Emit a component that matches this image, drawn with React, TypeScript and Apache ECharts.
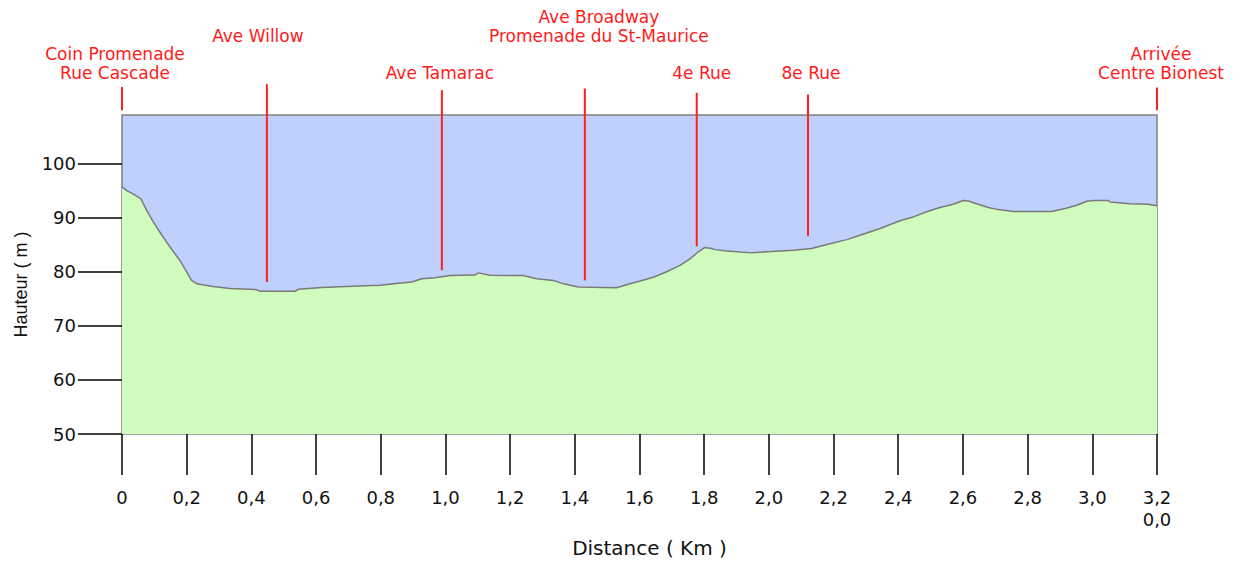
import React, { useEffect, useRef } from "react";
import * as echarts from "echarts";

// Elevation profile (distance in km, elevation in m)
const distKm = [0, 0.015, 0.035, 0.058, 0.076, 0.097, 0.123, 0.148, 0.179, 0.2, 0.215, 0.231, 0.282, 0.334, 0.416, 0.427, 0.535, 0.545, 0.617, 0.751, 0.798, 0.839, 0.896, 0.927, 0.968, 1.014, 1.091, 1.102, 1.138, 1.241, 1.282, 1.334, 1.359, 1.411, 1.529, 1.565, 1.602, 1.643, 1.684, 1.725, 1.756, 1.782, 1.802, 1.823, 1.833, 1.87, 1.947, 1.993, 2.076, 2.132, 2.189, 2.241, 2.282, 2.344, 2.405, 2.447, 2.488, 2.529, 2.57, 2.601, 2.617, 2.642, 2.678, 2.709, 2.756, 2.874, 2.916, 2.952, 2.983, 3.003, 3.049, 3.055, 3.117, 3.173, 3.2];
const elevM = [95.7, 95.0, 94.35, 93.55, 91.4, 89.2, 86.8, 84.6, 82.1, 80.0, 78.4, 77.8, 77.3, 76.9, 76.7, 76.4, 76.4, 76.75, 77.1, 77.4, 77.5, 77.8, 78.1, 78.7, 78.9, 79.3, 79.4, 79.8, 79.35, 79.3, 78.7, 78.4, 77.9, 77.2, 77.05, 77.7, 78.3, 79.0, 80.0, 81.2, 82.4, 83.7, 84.5, 84.3, 84.1, 83.85, 83.5, 83.7, 84.0, 84.3, 85.2, 85.95, 86.75, 88.0, 89.45, 90.15, 91.1, 91.9, 92.5, 93.2, 93.1, 92.6, 91.9, 91.5, 91.15, 91.15, 91.7, 92.3, 93.05, 93.2, 93.2, 92.9, 92.6, 92.5, 92.2];

// Street markers
const markerNames = [
  "Coin Promenade\nRue Cascade",
  "Ave Willow",
  "Ave Tamarac",
  "Ave Broadway\nPromenade du St-Maurice",
  "4e Rue",
  "8e Rue",
  "Arrivée\nCentre Bionest",
];
const markerDist = [0, 0.448, 0.989, 1.431, 1.777, 2.121, 3.2];
const markerLineFrom = [109.9, 78.1, 80.3, 78.4, 84.7, 86.6, 109.9];
const markerLineTo = [114.2, 114.7, 113.6, 113.9, 113.1, 112.8, 114.1];

// Layout of marker labels (row 0 = low, row 1 = high) and horizontal nudges in px
const markerLabelRow = [0, 1, 0, 1, 0, 0, 0];
const markerLabelDx = [-7, -9, -2, 14, 5, 3, 4];

// Axis ticks
const yTicks = [50, 60, 70, 80, 90, 100];
const xTicks = [0, 0.2, 0.4, 0.6, 0.8, 1.0, 1.2, 1.4, 1.6, 1.8, 2.0, 2.2, 2.4, 2.6, 2.8, 3.0, 3.2];
const xTickLabels = ["0", "0,2", "0,4", "0,6", "0,8", "1,0", "1,2", "1,4", "1,6", "1,8", "2,0", "2,2", "2,4", "2,6", "2,8", "3,0", "3,2\n0,0"];

const FONT = "DejaVu Sans";

export default function App() {
  const ref = useRef<HTMLDivElement>(null);
  useEffect(() => {
    document.body.style.margin = "0";
    const chart = echarts.init(ref.current!, null, { renderer: "svg" });
    const option: any = {
      animation: false,
      grid: {
        left: 122,
        right: 78,
        top: 115,
        bottom: 131,
        show: true,
        backgroundColor: "#bfd0fc",
        borderColor: "#808080",
        borderWidth: 1.5,
      },
      xAxis: {
        type: "value",
        min: 0,
        max: 3.2,
        interval: 0.2,
        name: "Distance ( Km )",
        nameLocation: "middle",
        nameGap: 104,
        nameTextStyle: { fontFamily: FONT, fontSize: 20, color: "#111", padding: [0, 0, 0, 20] },
        axisLine: { show: false },
        splitLine: { show: false },
        axisTick: { show: true, length: 41, lineStyle: { color: "#000", width: 1.5 }, customValues: xTicks },
        axisLabel: {
          customValues: xTicks,
          margin: 52,
          fontFamily: FONT,
          fontSize: 18,
          lineHeight: 22,
          color: "#111",
          formatter: (v: number) => {
            const idx = xTicks.findIndex((t) => Math.abs(t - v) < 1e-6);
            return idx >= 0 ? xTickLabels[idx] : "";
          },
        },
      },
      yAxis: {
        type: "value",
        min: 50,
        max: 109,
        interval: 10,
        name: "Hauteur ( m )",
        nameLocation: "middle",
        nameGap: 92,
        nameRotate: 90,
        nameTextStyle: { fontFamily: "Liberation Sans", fontSize: 18, color: "#111", padding: [0, 20, 0, 0] },
        axisLine: { show: false },
        splitLine: { show: false },
        axisTick: { show: true, length: 44, lineStyle: { color: "#000", width: 1.5 }, customValues: yTicks },
        axisLabel: { customValues: yTicks, margin: 46, fontFamily: FONT, fontSize: 18, color: "#111" },
      },
      series: [
        {
          type: "line",
          data: distKm.map((d, i) => [d, elevM[i]]),
          showSymbol: false,
          symbol: "none",
          lineStyle: { color: "#7a7a7a", width: 1.5 },
          areaStyle: { color: "#d0fdbd", origin: "start", opacity: 1 },
          z: 2,
          silent: true,
        },
        {
          type: "custom",
          clip: false,
          silent: true,
          z: 5,
          encode: { x: 0, y: 1 },
          data: markerDist.map((d, i) => [d, markerLineFrom[i], markerLineTo[i], i]),
          renderItem: (params: any, api: any) => {
            const i = api.value(3);
            const p1 = api.coord([api.value(0), api.value(1)]);
            const p2 = api.coord([api.value(0), api.value(2)]);
            const top = params.coordSys.y;
            const ty = markerLabelRow[i] === 1 ? top - 70 : top - 32.5;
            return {
              type: "group",
              children: [
                {
                  type: "line",
                  shape: { x1: p1[0], y1: p1[1], x2: p2[0], y2: p2[1] },
                  style: { stroke: "#ff2020", lineWidth: 2 },
                },
                {
                  type: "text",
                  x: p1[0] + markerLabelDx[i],
                  y: ty,
                  style: {
                    text: markerNames[i],
                    fill: "#ff1a1a",
                    fontSize: 17,
                    fontFamily: FONT,
                    align: "center",
                    verticalAlign: "bottom",
                    lineHeight: 19,
                  },
                },
              ],
            };
          },
        },
      ],
    };
    chart.setOption(option);
    return () => chart.dispose();
  }, []);
  return <div ref={ref} style={{ width: 1235, height: 565 }} />;
}
